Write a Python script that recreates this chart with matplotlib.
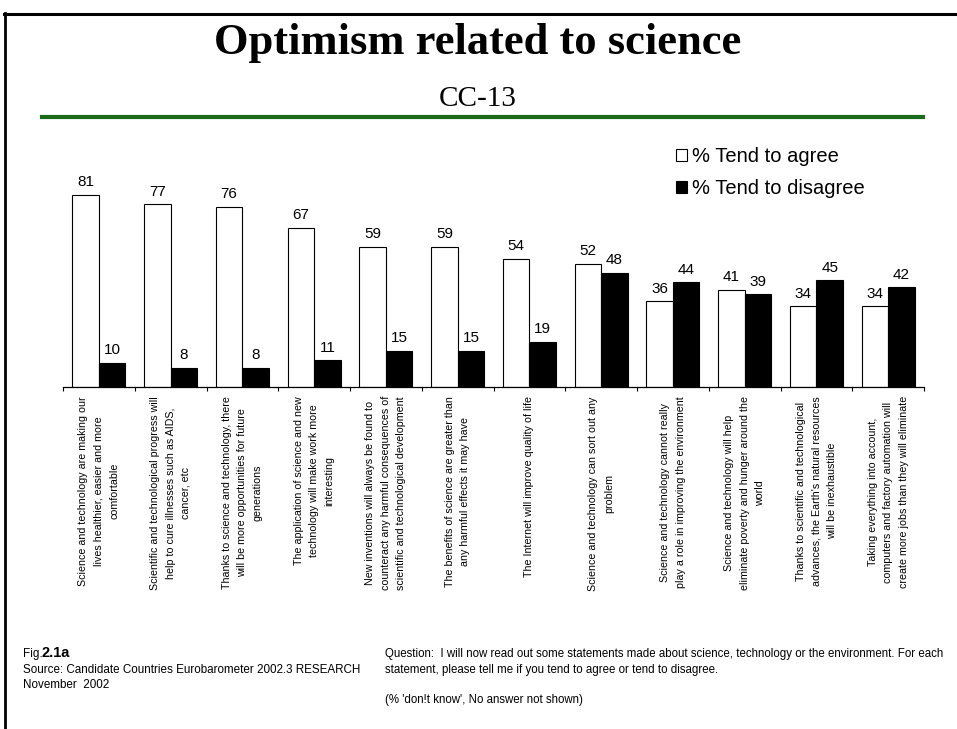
import matplotlib
matplotlib.use("Agg")
import matplotlib.pyplot as plt
from matplotlib.lines import Line2D
import numpy as np

statements = [
    "Science and technology are making our\nlives healthier, easier and more\ncomfortable",
    "Scientific and technological progress will\nhelp to cure illnesses such as AIDS,\ncancer, etc",
    "Thanks to science and technology, there\nwill be more opportunities for future\ngenerations",
    "The application of science and new\ntechnology will make work more\ninteresting",
    "New inventions will always be found to\ncounteract any harmful consequences of\nscientific and technological development",
    "The benefits of science are greater than\nany harmful effects it may have",
    "The Internet will improve quality of life",
    "Science and technology can sort out any\nproblem",
    "Science and technology cannot really\nplay a role in improving the environment",
    "Science and technology will help\neliminate poverty and hunger around the\nworld",
    "Thanks to scientific and technological\nadvances, the Earth's natural resources\nwill be inexhaustible",
    "Taking everything into account,\ncomputers and factory automation will\ncreate more jobs than they will eliminate",
]
agree = [81, 77, 76, 67, 59, 59, 54, 52, 36, 41, 34, 34]
disagree = [10, 8, 8, 11, 15, 15, 19, 48, 44, 39, 45, 42]
series_names = ["% Tend to agree", "% Tend to disagree"]

W, H = 957, 729
SANS = ["Liberation Sans", "DejaVu Sans"]
SERIF = ["Liberation Serif", "DejaVu Serif"]
plt.rcParams["font.family"] = SANS


def fx(px):
    return px / W


def fy(py):
    return 1 - py / H


fig = plt.figure(figsize=(W / 100, H / 100), dpi=100)
fig.patch.set_facecolor("white")

# slide frame: top rule and left rule
fig.add_artist(Line2D([fx(4), fx(957)], [fy(13.5), fy(13.5)], color="black", lw=2.2))
fig.add_artist(Line2D([fx(4.5), fx(4.5)], [fy(13), fy(729)], color="black", lw=2.0))

# heading
fig.text(fx(478), fy(54), "Optimism related to science", ha="center", va="baseline",
         fontsize=32, fontweight="bold", family=SERIF)
fig.text(fx(478), fy(106), "CC-13", ha="center", va="baseline", fontsize=21, family=SERIF)
fig.add_artist(Line2D([fx(42), fx(923)], [fy(117), fy(117)], color="#1b6b1b", lw=3))

# chart
ax = fig.add_axes([fx(63), fy(386.5), (924 - 63) / W, 236.5 / H])
x = np.arange(len(statements))
bw = 0.37
b1 = ax.bar(x - bw / 2, agree, bw, color="white", edgecolor="black", linewidth=0.8,
            label=series_names[0])
b2 = ax.bar(x + bw / 2, disagree, bw, color="black", edgecolor="black", linewidth=0.8,
            label=series_names[1])
ax.bar_label(b1, padding=4, fontsize=11)
ax.bar_label(b2, padding=4, fontsize=11)

ax.set_xlim(-0.5, len(statements) - 0.5)
ax.set_ylim(0, 100)
for s in ("left", "right", "top"):
    ax.spines[s].set_visible(False)
ax.spines["bottom"].set_linewidth(0.9)
ax.set_yticks([])
ax.set_xticks(np.arange(-0.5, len(statements), 1))
ax.set_xticklabels([])
ax.tick_params(axis="x", which="major", length=3, width=0.8, direction="out")
ax.set_xticks(x, minor=True)
ax.set_xticklabels(statements, minor=True, rotation=90, fontsize=7.7,
                   ha="center", va="top", multialignment="center", linespacing=1.7)
ax.tick_params(axis="x", which="minor", length=0, pad=7)

ax.legend(handles=[b1, b2], loc="upper left", bbox_to_anchor=(fx(676), fy(147)),
          bbox_transform=fig.transFigure, frameon=False, fontsize=14.5,
          handlelength=0.55, handleheight=0.55, handletextpad=0.25, labelspacing=0.64,
          borderpad=0, borderaxespad=0)

# footnotes
fig.text(fx(23), fy(657), "Fig.", ha="left", va="baseline", fontsize=8.5)
fig.text(fx(41), fy(657), "2.1a", ha="left", va="baseline", fontsize=10.5,
         fontweight="bold")
fig.text(fx(23), fy(673), "Source: Candidate Countries Eurobarometer 2002.3 RESEARCH",
         ha="left", va="baseline", fontsize=8.4)
fig.text(fx(23), fy(688), "November  2002", ha="left", va="baseline", fontsize=8.4)
fig.text(fx(385), fy(657),
         "Question:  I will now read out some statements made about science, technology or the environment. For each",
         ha="left", va="baseline", fontsize=8.3)
fig.text(fx(385), fy(673),
         "statement, please tell me if you tend to agree or tend to disagree.",
         ha="left", va="baseline", fontsize=8.3)
fig.text(fx(385), fy(703), "(% 'don!t know', No answer not shown)",
         ha="left", va="baseline", fontsize=8.3)

fig.savefig("out.png", dpi=100)
